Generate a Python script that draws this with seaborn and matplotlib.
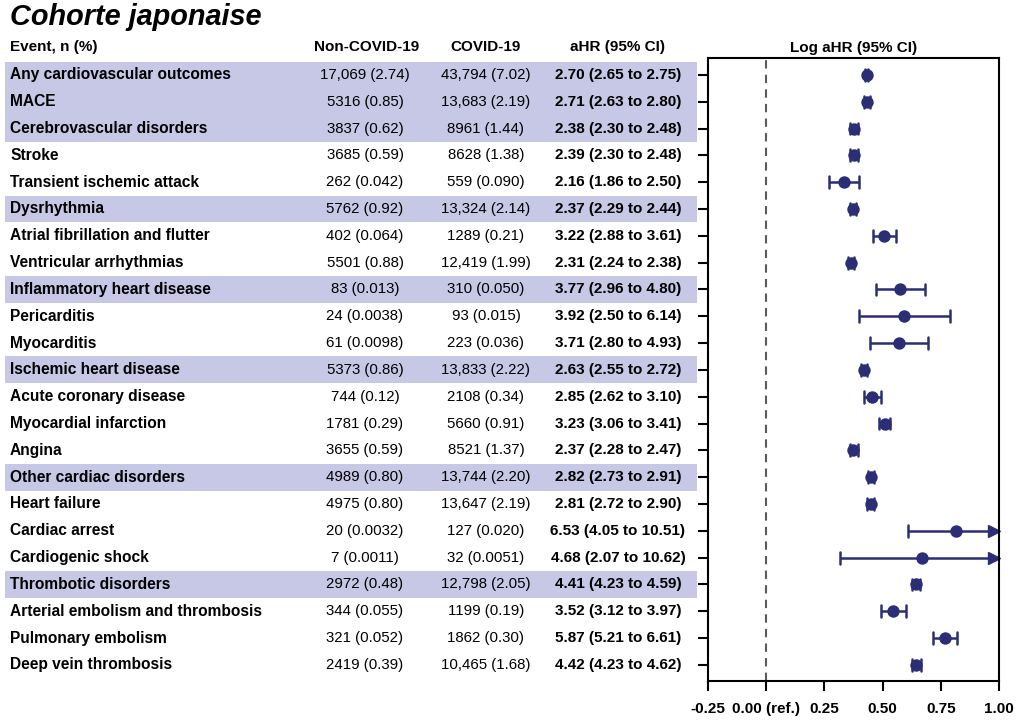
import numpy as np
import pandas as pd
import matplotlib
matplotlib.use("Agg")
import matplotlib.pyplot as plt
import matplotlib.transforms as mtransforms
from matplotlib.patches import Rectangle
import seaborn as sns

# ---- data ----
events = [
    "Any cardiovascular outcomes", "MACE", "Cerebrovascular disorders", "Stroke",
    "Transient ischemic attack", "Dysrhythmia", "Atrial fibrillation and flutter",
    "Ventricular arrhythmias", "Inflammatory heart disease", "Pericarditis",
    "Myocarditis", "Ischemic heart disease", "Acute coronary disease",
    "Myocardial infarction", "Angina", "Other cardiac disorders", "Heart failure",
    "Cardiac arrest", "Cardiogenic shock", "Thrombotic disorders",
    "Arterial embolism and thrombosis", "Pulmonary embolism", "Deep vein thrombosis",
]
is_group = [1, 1, 1, 0, 0, 1, 0, 0, 1, 0, 0, 1, 0, 0, 0, 1, 0, 0, 0, 1, 0, 0, 0]
non_covid = [
    "17,069 (2.74)", "5316 (0.85)", "3837 (0.62)", "3685 (0.59)", "262 (0.042)",
    "5762 (0.92)", "402 (0.064)", "5501 (0.88)", "83 (0.013)", "24 (0.0038)",
    "61 (0.0098)", "5373 (0.86)", "744 (0.12)", "1781 (0.29)", "3655 (0.59)",
    "4989 (0.80)", "4975 (0.80)", "20 (0.0032)", "7 (0.0011)", "2972 (0.48)",
    "344 (0.055)", "321 (0.052)", "2419 (0.39)",
]
covid = [
    "43,794 (7.02)", "13,683 (2.19)", "8961 (1.44)", "8628 (1.38)", "559 (0.090)",
    "13,324 (2.14)", "1289 (0.21)", "12,419 (1.99)", "310 (0.050)", "93 (0.015)",
    "223 (0.036)", "13,833 (2.22)", "2108 (0.34)", "5660 (0.91)", "8521 (1.37)",
    "13,744 (2.20)", "13,647 (2.19)", "127 (0.020)", "32 (0.0051)", "12,798 (2.05)",
    "1199 (0.19)", "1862 (0.30)", "10,465 (1.68)",
]
ahr = [2.70, 2.71, 2.38, 2.39, 2.16, 2.37, 3.22, 2.31, 3.77, 3.92, 3.71, 2.63, 2.85,
       3.23, 2.37, 2.82, 2.81, 6.53, 4.68, 4.41, 3.52, 5.87, 4.42]
ci_lo = [2.65, 2.63, 2.30, 2.30, 1.86, 2.29, 2.88, 2.24, 2.96, 2.50, 2.80, 2.55, 2.62,
         3.06, 2.28, 2.73, 2.72, 4.05, 2.07, 4.23, 3.12, 5.21, 4.23]
ci_hi = [2.75, 2.80, 2.48, 2.48, 2.50, 2.44, 3.61, 2.38, 4.80, 6.14, 4.93, 2.72, 3.10,
         3.41, 2.47, 2.91, 2.90, 10.51, 10.62, 4.59, 3.97, 6.61, 4.62]
xticks = [-0.25, 0.0, 0.25, 0.5, 0.75, 1.0]
xticklabels = ["-0.25", "0.00 (ref.)", "0.25", "0.50", "0.75", "1.00"]

df = pd.DataFrame({
    "event": events, "group": is_group, "row": np.arange(len(events)),
    "log_ahr": np.log10(ahr), "log_lo": np.log10(ci_lo), "log_hi": np.log10(ci_hi),
})

navy = "#2b2e74"
band = "#c7c7e6"
xmax = 1.0

sns.set_style("ticks")
plt.rcParams["font.family"] = ["Liberation Sans", "DejaVu Sans"]
plt.rcParams["text.color"] = "black"
plt.rcParams["xtick.color"] = "black"
plt.rcParams["ytick.color"] = "black"
plt.rcParams["axes.labelcolor"] = "black"

fig = plt.figure(figsize=(10.24, 7.27), dpi=100)
ax = fig.add_axes([0.6914, 0.0633, 0.2842, 0.8569])

# CI lines (clipped at the axis limit, arrow when beyond)
for _, r in df.iterrows():
    hi = min(r.log_hi, xmax)
    ax.plot([r.log_lo, hi], [r.row, r.row], color=navy, lw=1.8, solid_capstyle="butt")
    ax.plot([r.log_lo, r.log_lo], [r.row - 0.22, r.row + 0.22], color=navy, lw=1.8)
    if r.log_hi > xmax:
        ax.plot([xmax - 0.022], [r.row], marker=">", ms=8.5, color=navy, clip_on=False)
    else:
        ax.plot([hi, hi], [r.row - 0.22, r.row + 0.22], color=navy, lw=1.8)

sns.scatterplot(data=df, x="log_ahr", y="row", marker="o", s=80, color=navy,
                edgecolor=navy, linewidth=0, ax=ax, zorder=3, legend=False)

ax.axvline(0, color="#5a5a5a", lw=1.5, ls=(0, (4, 3)), zorder=1)
ax.set_xlim(-0.25, 1.0)
ax.set_ylim(len(events) - 1 + 0.6, -0.63)
ax.set_yticks(df["row"])
ax.set_yticklabels([])
ax.set_xticks(xticks)
ax.set_xticklabels(xticklabels, fontsize=11, fontweight="bold")
ax.set_xlabel("")
ax.set_ylabel("")
ax.tick_params(axis="both", direction="out", length=7, width=1.5, color="black", pad=8)
for s in ax.spines.values():
    s.set_linewidth(1.5)
    s.set_color("black")
ax.set_title("Log aHR (95% CI)", fontsize=11, fontweight="bold", pad=4)

# ---- table on the left, rows aligned with the forest plot ----
trans = mtransforms.blended_transform_factory(fig.transFigure, ax.transData)
for _, r in df.iterrows():
    i = r.row
    if r.group:
        fig.patches.append(Rectangle((0.005, i - 0.5), 0.676, 1.0, transform=trans,
                                     facecolor=band, edgecolor="none", zorder=0))
    fig.text(0.0098, i, events[i], transform=trans, ha="left", va="center",
             fontsize=11.2, fontweight="bold")
    fig.text(0.3565, i, non_covid[i], transform=trans, ha="center", va="center",
             fontsize=10.8)
    fig.text(0.4746, i, covid[i], transform=trans, ha="center", va="center",
             fontsize=10.8)
    fig.text(0.6035, i, f"{ahr[i]:.2f} ({ci_lo[i]:.2f} to {ci_hi[i]:.2f})",
             transform=trans, ha="center", va="center", fontsize=11, fontweight="bold")

hy = 1 - 47 / 727
fig.text(0.0098, hy, "Event, n (%)", ha="left", va="center", fontsize=11, fontweight="bold")
fig.text(0.358, hy, "Non-COVID-19", ha="center", va="center", fontsize=11, fontweight="bold")
fig.text(0.4746, hy, "COVID-19", ha="center", va="center", fontsize=11, fontweight="bold")
fig.text(0.6035, hy, "aHR (95% CI)", ha="center", va="center", fontsize=11, fontweight="bold")

fig.text(0.0098, 1 - 17 / 727, "Cohorte japonaise", ha="left", va="center",
         fontsize=20.8, fontweight="bold", fontstyle="italic")

fig.savefig("out.png", dpi=100, facecolor="white")
